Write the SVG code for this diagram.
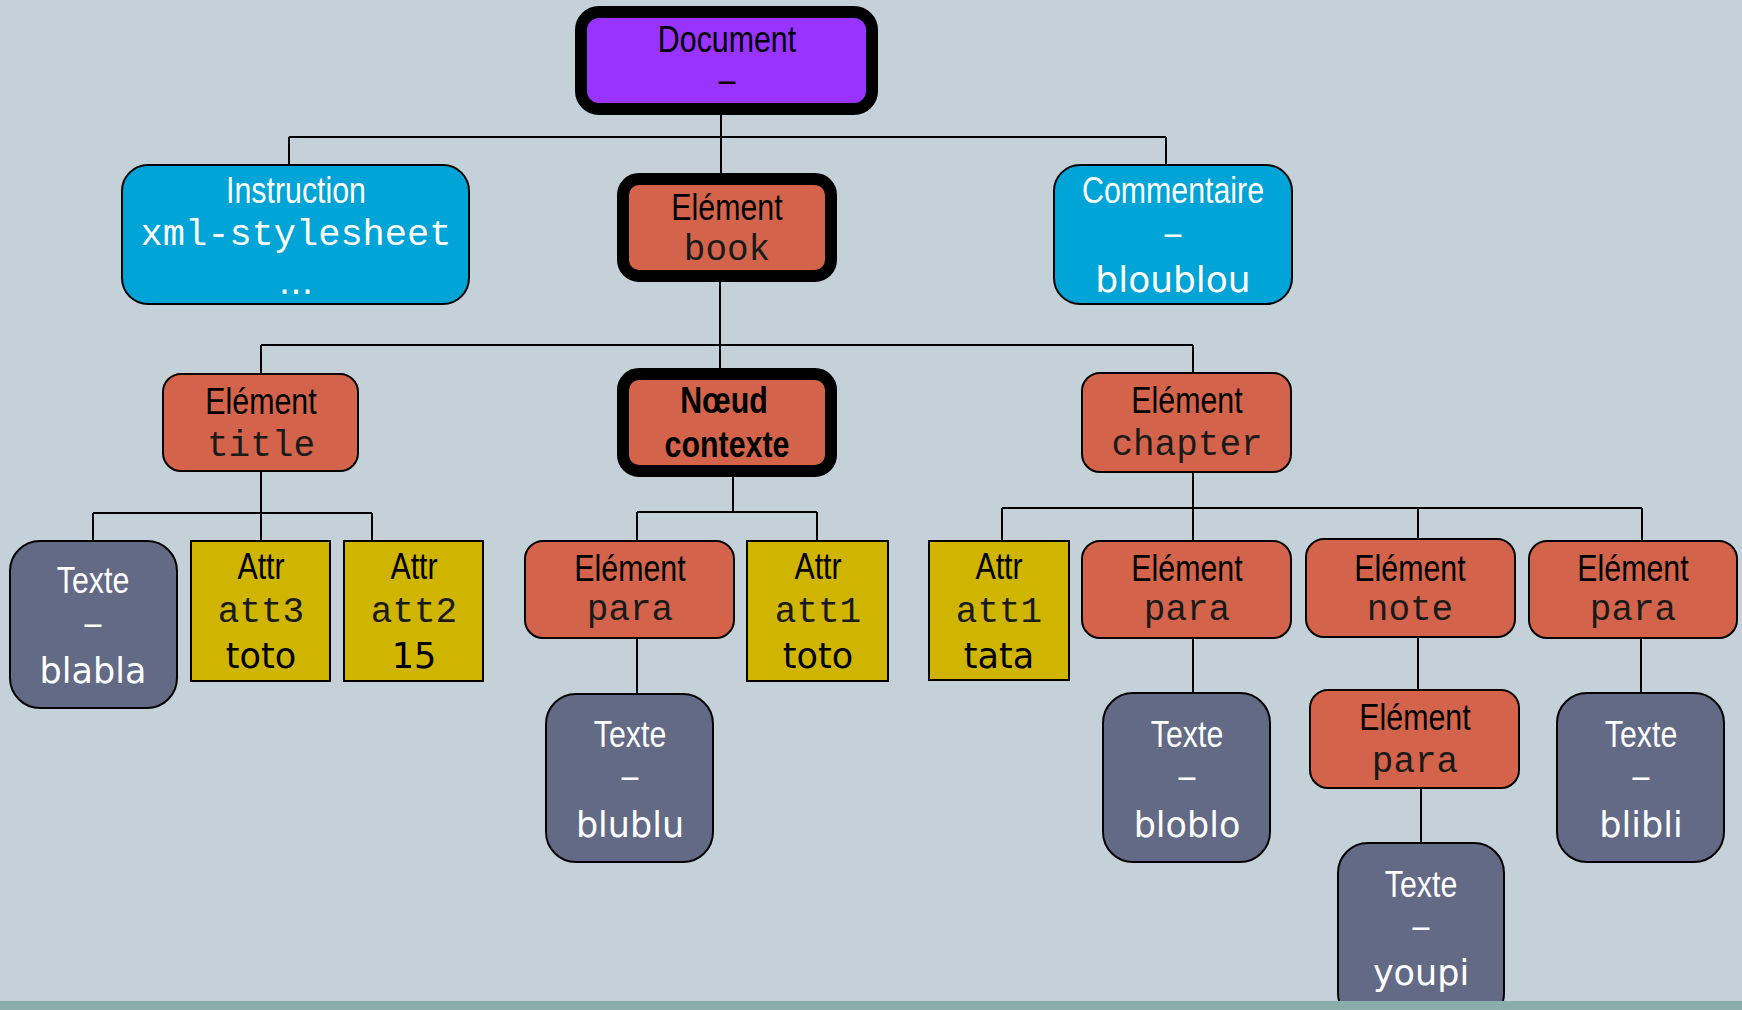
<svg xmlns="http://www.w3.org/2000/svg" width="1742" height="1010" viewBox="0 0 1742 1010">
<style>
.bg{fill:#c5d1d8}
.box{stroke:#000;stroke-width:2}
.thick{stroke:#000;stroke-width:12}
.elem{fill:#d3644b}
.txt{fill:#626a86}
.attr{fill:#cfb400}
.blue{fill:#00a4d7}
.doc{fill:#9933ff}
.lbl{font-family:"Liberation Sans",Arial,sans-serif;font-size:37px;text-anchor:middle}
.bold{font-weight:bold}
.mono{font-family:"Liberation Mono","Courier New",monospace;font-size:36px;text-anchor:middle}
.val{font-family:"DejaVu Sans",Verdana,sans-serif;font-size:35px;text-anchor:middle}
.w{fill:#fff}
.k{fill:#000}
.m{fill:#1a1a1a}
#connectors path{fill:none;stroke:#000;stroke-width:2}
</style>
<rect class="bg" x="0" y="0" width="1742" height="1010"/>
<g id="connectors">
<path d="M721 115V173M289 137H1166M289 137V165M1166 137V165"/>
<path d="M720 282V368M261 345H1193M261 345V374M1193 345V373"/>
<path d="M261 471V541M93 513H372M93 513V541M372 513V541"/>
<path d="M733 477V512M637 512H817M637 512V541M817 512V541"/>
<path d="M637 638V694"/>
<path d="M1193 472V541M1002 508H1642M1002 508V541M1418 508V539M1642 508V541"/>
<path d="M1193 638V693M1418 637V690M1421 788V843M1641 638V693"/>
</g>
<g id="n-document">
<rect class="doc thick" x="581" y="12" width="291" height="97" rx="18"/>
<text class="lbl k" transform="translate(727 52) scale(0.82 1)">Document</text>
<text class="lbl k" transform="translate(727 92) scale(0.82 1)">–</text>
</g>
<g id="n-instruction">
<rect class="blue box" x="122" y="165" width="347" height="139" rx="26"/>
<text class="lbl w" transform="translate(296 203) scale(0.82 1)">Instruction</text>
<text class="mono w" x="296" y="245" style="font-size:37px">xml-stylesheet</text>
<text class="val w" x="296" y="294" style="font-size:36px">...</text>
</g>
<g id="n-book">
<rect class="elem thick" x="623" y="179" width="208" height="97" rx="16"/>
<text class="lbl k" transform="translate(727 220) scale(0.82 1)">Elément</text>
<text class="mono m" x="727" y="260">book</text>
</g>
<g id="n-comment">
<rect class="blue box" x="1054" y="165" width="238" height="139" rx="26"/>
<text class="lbl w" transform="translate(1173 203) scale(0.82 1)">Commentaire</text>
<text class="lbl w" transform="translate(1173 245) scale(0.82 1)">–</text>
<text class="val w" x="1173" y="292" style="font-size:36px">bloublou</text>
</g>
<g id="n-title">
<rect class="elem box" x="163" y="374" width="195" height="97" rx="18"/>
<text class="lbl k" transform="translate(261 414) scale(0.82 1)">Elément</text>
<text class="mono m" x="261" y="456">title</text>
</g>
<g id="n-context">
<rect class="elem thick" x="623" y="374" width="208" height="97" rx="16"/>
<text class="lbl bold k" transform="translate(724 413) scale(0.82 1)">Nœud</text>
<text class="lbl bold k" transform="translate(727 457) scale(0.82 1)">contexte</text>
</g>
<g id="n-chapter">
<rect class="elem box" x="1082" y="373" width="209" height="99" rx="18"/>
<text class="lbl k" transform="translate(1187 413) scale(0.82 1)">Elément</text>
<text class="mono m" x="1187" y="455">chapter</text>
</g>
<g id="n-blabla">
<rect class="txt box" x="10" y="541" width="167" height="167" rx="30"/>
<text class="lbl w" transform="translate(93 593) scale(0.82 1)">Texte</text>
<text class="lbl w" transform="translate(93 635) scale(0.82 1)">–</text>
<text class="val w" x="93" y="683">blabla</text>
</g>
<g id="n-att3">
<rect class="attr box" x="191" y="541" width="139" height="140"/>
<text class="lbl k" transform="translate(261 579) scale(0.82 1)">Attr</text>
<text class="mono m" x="261" y="622">att3</text>
<text class="val k" x="261" y="668">toto</text>
</g>
<g id="n-att2">
<rect class="attr box" x="344" y="541" width="139" height="140"/>
<text class="lbl k" transform="translate(414 579) scale(0.82 1)">Attr</text>
<text class="mono m" x="414" y="622">att2</text>
<text class="val k" x="414" y="668">15</text>
</g>
<g id="n-para1">
<rect class="elem box" x="525" y="541" width="209" height="97" rx="18"/>
<text class="lbl k" transform="translate(630 581) scale(0.82 1)">Elément</text>
<text class="mono m" x="630" y="620">para</text>
</g>
<g id="n-att1-toto">
<rect class="attr box" x="747" y="541" width="141" height="140"/>
<text class="lbl k" transform="translate(818 579) scale(0.82 1)">Attr</text>
<text class="mono m" x="818" y="622">att1</text>
<text class="val k" x="818" y="668">toto</text>
</g>
<g id="n-blublu">
<rect class="txt box" x="546" y="694" width="167" height="168" rx="30"/>
<text class="lbl w" transform="translate(630 747) scale(0.82 1)">Texte</text>
<text class="lbl w" transform="translate(630 788) scale(0.82 1)">–</text>
<text class="val w" x="630" y="837">blublu</text>
</g>
<g id="n-att1-tata">
<rect class="attr box" x="929" y="541" width="140" height="139"/>
<text class="lbl k" transform="translate(999 579) scale(0.82 1)">Attr</text>
<text class="mono m" x="999" y="622">att1</text>
<text class="val k" x="999" y="668">tata</text>
</g>
<g id="n-para2">
<rect class="elem box" x="1082" y="541" width="209" height="97" rx="18"/>
<text class="lbl k" transform="translate(1187 581) scale(0.82 1)">Elément</text>
<text class="mono m" x="1187" y="620">para</text>
</g>
<g id="n-note">
<rect class="elem box" x="1306" y="539" width="209" height="98" rx="18"/>
<text class="lbl k" transform="translate(1410 581) scale(0.82 1)">Elément</text>
<text class="mono m" x="1410" y="620">note</text>
</g>
<g id="n-para3">
<rect class="elem box" x="1529" y="541" width="208" height="97" rx="18"/>
<text class="lbl k" transform="translate(1633 581) scale(0.82 1)">Elément</text>
<text class="mono m" x="1633" y="620">para</text>
</g>
<g id="n-bloblo">
<rect class="txt box" x="1103" y="693" width="167" height="169" rx="30"/>
<text class="lbl w" transform="translate(1187 747) scale(0.82 1)">Texte</text>
<text class="lbl w" transform="translate(1187 788) scale(0.82 1)">–</text>
<text class="val w" x="1187" y="837">bloblo</text>
</g>
<g id="n-para4">
<rect class="elem box" x="1310" y="690" width="209" height="98" rx="18"/>
<text class="lbl k" transform="translate(1415 730) scale(0.82 1)">Elément</text>
<text class="mono m" x="1415" y="772">para</text>
</g>
<g id="n-youpi">
<rect class="txt box" x="1338" y="843" width="166" height="180" rx="30"/>
<text class="lbl w" transform="translate(1421 897) scale(0.82 1)">Texte</text>
<text class="lbl w" transform="translate(1421 938) scale(0.82 1)">–</text>
<text class="val w" x="1421" y="985">youpi</text>
</g>
<g id="n-blibli">
<rect class="txt box" x="1557" y="693" width="167" height="169" rx="30"/>
<text class="lbl w" transform="translate(1641 747) scale(0.82 1)">Texte</text>
<text class="lbl w" transform="translate(1641 788) scale(0.82 1)">–</text>
<text class="val w" x="1641" y="837">blibli</text>
</g>
<rect x="0" y="1001" width="1742" height="9" fill="#8aadab"/>
</svg>
